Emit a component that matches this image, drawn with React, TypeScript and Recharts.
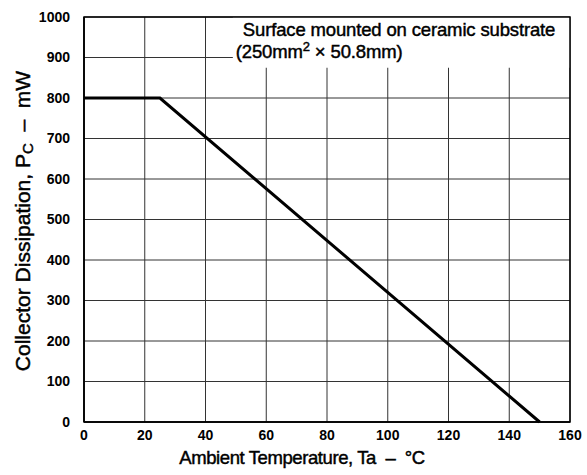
import React from 'react';
import {
  LineChart,
  Line,
  XAxis,
  YAxis,
  CartesianGrid,
  ReferenceArea
} from 'recharts';

// Derating curve: ambient temperature (°C) vs collector dissipation (mW)
const temps = [0, 25, 150];
const power = [800, 800, 0];

const xTicks = [0, 20, 40, 60, 80, 100, 120, 140, 160];
const yTicks = [0, 100, 200, 300, 400, 500, 600, 700, 800, 900, 1000];

const note1 = 'Surface mounted on ceramic substrate';
const FONT = '"Liberation Sans", Arial, sans-serif';
const NB = '\u00a0';

const data = temps.map((t, i) => ({ t, pc: power[i] }));

// heavier look for the regular-weight texts
const heavy = { stroke: '#000', strokeWidth: 0.45 };

const YLabel = () => {
  const cx = 22;
  const cy = 221;
  return (
    <text
      x={cx}
      y={cy}
      transform={`rotate(-90, ${cx}, ${cy})`}
      textAnchor="middle"
      dominantBaseline="central"
      fontFamily={FONT}
      fontSize={21}
      fill="#000"
      {...heavy}
    >
      Collector Dissipation, P<tspan fontSize={15} dy={5}>C</tspan>
      <tspan dy={-5}>{`${NB}${NB}–${NB}${NB}mW`}</tspan>
    </text>
  );
};

const XLabel = () => (
  <text
    x={302}
    y={464}
    textAnchor="middle"
    fontFamily={FONT}
    fontSize={18.5}
    letterSpacing={-0.4}
    fill="#000"
    {...heavy}
  >
    {`Ambient Temperature, Ta${NB}${NB}–${NB}${NB}°C`}
  </text>
);

const NoteLabel = ({ viewBox }: any) => {
  const x = viewBox.x;
  const y = viewBox.y;
  return (
    <g fontFamily={FONT} fontSize={18.5} letterSpacing={-0.15} fill="#000" {...heavy}>
      <text x={x + 10} y={y + 19}>{note1}</text>
      <text x={x + 3} y={y + 41}>
        (250mm
        <tspan fontSize={13} dy={-7}>2</tspan>
        <tspan dy={7}>{`${NB}×${NB}50.8mm)`}</tspan>
      </text>
    </g>
  );
};

const App: React.FC = () => {
  return (
    <div style={{ position: 'absolute', left: 0, top: 0, background: '#fff' }}>
      <LineChart
        width={587}
        height={475}
        data={data}
        margin={{ top: 17, right: 17, left: 0, bottom: 0 }}
      >
        <CartesianGrid stroke="#333" strokeWidth={1} />
        <XAxis
          dataKey="t"
          type="number"
          domain={[0, 160]}
          ticks={xTicks}
          tickLine={false}
          axisLine={{ stroke: '#000', strokeWidth: 1.5 }}
          height={53}
          tick={{ fill: '#000', fontFamily: FONT, fontSize: 14, fontWeight: 'bold' }}
          tickMargin={2}
          label={<XLabel />}
        />
        <YAxis
          type="number"
          domain={[0, 1000]}
          ticks={yTicks}
          tickLine={false}
          axisLine={{ stroke: '#000', strokeWidth: 1.5 }}
          width={84}
          tick={{ fill: '#000', fontFamily: FONT, fontSize: 14, fontWeight: 'bold' }}
          tickMargin={8}
          label={<YLabel />}
        />
        <ReferenceArea
          x1={49}
          x2={160}
          y1={875}
          y2={1000}
          fill="#fff"
          fillOpacity={1}
          stroke="none"
          label={<NoteLabel />}
        />
        <ReferenceArea
          x1={0}
          x2={160}
          y1={0}
          y2={1000}
          fill="none"
          stroke="#000"
          strokeWidth={1.5}
        />
        <Line
          dataKey="pc"
          stroke="#000"
          strokeWidth={3}
          dot={false}
          isAnimationActive={false}
          type="linear"
        />
      </LineChart>
    </div>
  );
};

export default App;
